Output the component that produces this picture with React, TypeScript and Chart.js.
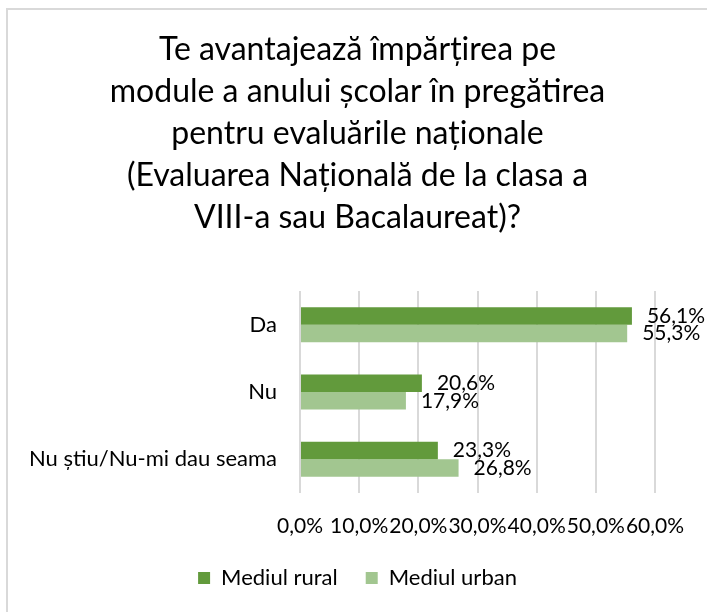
import React, { useEffect, useRef } from "react";
import { Chart, registerables } from "chart.js";

Chart.register(...registerables);

const titleLines = [
  "Te avantajează împărțirea pe",
  "module a anului școlar în pregătirea",
  "pentru evaluările naționale",
  "(Evaluarea Națională de la clasa a",
  "VIII-a sau Bacalaureat)?",
];
const categories = ["Da", "Nu", "Nu știu/Nu-mi dau seama"];
const seriesNames = ["Mediul rural", "Mediul urban"];
const ruralValues = [56.1, 20.6, 23.3];
const urbanValues = [55.3, 17.9, 26.8];
const xMin = 0;
const xMax = 60;
const xStep = 10;

const fmt = (v: number) => v.toFixed(1).replace(".", ",") + "%";

const FONT = "Lato";
const TEXT = "#000000";

const dataLabels = {
  id: "dataLabels",
  afterDatasetsDraw(chart: any) {
    const ctx = chart.ctx;
    ctx.save();
    ctx.font = `21px ${FONT}`;
    ctx.fillStyle = TEXT;
    ctx.textAlign = "left";
    ctx.textBaseline = "middle";
    chart.data.datasets.forEach((ds: any, di: number) => {
      const meta = chart.getDatasetMeta(di);
      meta.data.forEach((el: any, i: number) => {
        ctx.fillText(fmt(ds.data[i]), el.x + 15, el.y);
      });
    });
    ctx.restore();
  },
};

export default function App() {
  const ref = useRef<HTMLCanvasElement | null>(null);
  useEffect(() => {
    if (!ref.current) return;
    const chart = new Chart(ref.current, {
      type: "bar",
      data: {
        labels: categories,
        datasets: [
          {
            label: seriesNames[0],
            data: ruralValues,
            backgroundColor: "#629A3C",
            categoryPercentage: 0.52,
            barPercentage: 1,
          },
          {
            label: seriesNames[1],
            data: urbanValues,
            backgroundColor: "#A2C690",
            categoryPercentage: 0.52,
            barPercentage: 1,
          },
        ],
      },
      options: {
        indexAxis: "y",
        responsive: false,
        animation: false,
        layout: { padding: { left: 0, right: 0, top: 0, bottom: 13 } },
        plugins: {
          title: {
            display: true,
            text: titleLines,
            color: TEXT,
            font: { family: FONT, size: 32, weight: "normal", lineHeight: 42 / 32 },
            padding: { top: 19, bottom: 52 },
          },
          legend: {
            position: "bottom",
            labels: {
              boxWidth: 12,
              boxHeight: 12,
              padding: 28,
              color: TEXT,
              font: { family: FONT, size: 22 },
            },
          },
          tooltip: { enabled: false },
        },
        scales: {
          x: {
            min: xMin,
            max: xMax,
            ticks: {
              stepSize: xStep,
              autoSkip: false,
              maxRotation: 0,
              padding: 21,
              color: TEXT,
              font: { family: FONT, size: 21 },
              callback: (v: any) => fmt(Number(v)),
            },
            grid: { color: "#D9D9D9", lineWidth: 2, drawTicks: false },
            border: { display: false },
            afterFit: (s: any) => {
              s.height = 46;
              s.paddingLeft = 0;
              s.paddingRight = 52;
            },
          },
          y: {
            ticks: {
              padding: 23,
              color: TEXT,
              font: { family: FONT, size: 22 },
            },
            grid: { display: false, drawTicks: false },
            border: { display: false },
            afterFit: (s: any) => {
              s.width = 292;
            },
          },
        },
      },
      plugins: [dataLabels],
    });
    return () => chart.destroy();
  }, []);
  return (
    <div
      style={{
        position: "fixed",
        left: 6,
        top: 8,
        borderLeft: "2px solid #D9D9D9",
        borderTop: "2px solid #D9D9D9",
        background: "#fff",
      }}
    >
      <canvas ref={ref} width={699} height={602} style={{ display: "block" }} />
    </div>
  );
}
